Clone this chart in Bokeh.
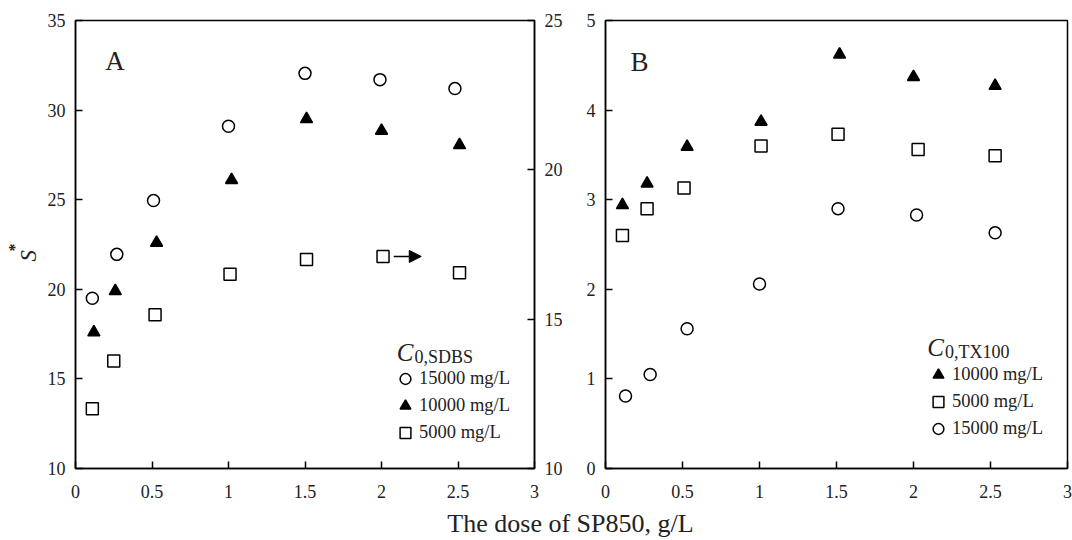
import math
from bokeh.plotting import figure
from bokeh.models import (Range1d, LinearAxis, FixedTicker, NumeralTickFormatter,
                          Legend, LegendItem, Label, Arrow, NormalHead, Title)
from bokeh.layouts import column, row
from bokeh.embed import file_html
from bokeh.resources import INLINE

FONT = "Liberation Serif"
TXT = "#222222"

# ---------------- data ----------------
# Panel A (C0,SDBS) - circles & triangles on left axis, squares on right axis
a_x_15000 = [0.11, 0.27, 0.51, 1.00, 1.50, 1.99, 2.48]
a_y_15000 = [19.5, 21.95, 24.95, 29.1, 32.05, 31.7, 31.2]
a_x_10000 = [0.12, 0.26, 0.53, 1.02, 1.51, 2.00, 2.51]
a_y_10000 = [17.6, 19.9, 22.6, 26.1, 29.5, 28.85, 28.05]
a_x_5000 = [0.11, 0.25, 0.52, 1.01, 1.51, 2.01, 2.51]
a_y_5000 = [12.0, 13.6, 15.15, 16.5, 17.0, 17.1, 16.55]

# Panel B (C0,TX100)
b_x_10000 = [0.11, 0.27, 0.53, 1.01, 1.52, 2.00, 2.53]
b_y_10000 = [2.94, 3.18, 3.59, 3.87, 4.62, 4.37, 4.27]
b_x_5000 = [0.11, 0.27, 0.51, 1.01, 1.51, 2.03, 2.53]
b_y_5000 = [2.60, 2.90, 3.13, 3.60, 3.73, 3.56, 3.49]
b_x_15000 = [0.13, 0.29, 0.53, 1.00, 1.51, 2.02, 2.53]
b_y_15000 = [0.81, 1.05, 1.56, 2.06, 2.90, 2.83, 2.63]

x_ticks = [0, 0.5, 1, 1.5, 2, 2.5, 3]
a_left_ticks = [10, 15, 20, 25, 30, 35]
a_right_ticks = [10, 15, 20, 25]
b_ticks = [0, 1, 2, 3, 4, 5]

legend_labels = ["15000 mg/L", "10000 mg/L", "5000 mg/L"]


def style_axis(ax, ticks, fmt=None, standoff=10):
    ax.ticker = FixedTicker(ticks=ticks)
    if fmt:
        ax.formatter = NumeralTickFormatter(format=fmt)
    ax.axis_line_color = "black"
    ax.axis_line_width = 1.5
    ax.major_tick_line_color = "black"
    ax.major_tick_line_width = 1.5
    ax.major_tick_in = 7
    ax.major_tick_out = 0
    ax.minor_tick_line_color = None
    ax.major_label_text_font = FONT
    ax.major_label_text_font_size = "18px"
    ax.major_label_text_color = TXT
    ax.major_label_standoff = standoff


def base_fig(width, xr, yr, ml, mr, mt, mb):
    p = figure(width=width, height=510, x_range=xr, y_range=yr,
               output_backend="svg", toolbar_location=None,
               min_border_left=ml, min_border_right=mr,
               min_border_top=mt, min_border_bottom=mb)
    p.xgrid.grid_line_color = None
    p.ygrid.grid_line_color = None
    p.outline_line_color = "black"
    p.outline_line_width = 1.5
    p.outline_line_alpha = 1
    p.background_fill_color = "white"
    p.border_fill_color = "white"
    return p


def make_legend(items, loc):
    return Legend(items=items, location=loc, padding=0, margin=0, spacing=0,
                  glyph_width=28, glyph_height=27, label_standoff=0,
                  label_text_font=FONT, label_text_font_size="18.5px",
                  label_text_color=TXT, border_line_color=None,
                  background_fill_alpha=0)


mk = dict(size=12, line_color="black", line_width=1.5)

# ---------------- Panel A ----------------
pA = base_fig(572, Range1d(0, 3), Range1d(10, 35), 72, 38, 20, 40)
pA.extra_y_ranges = {"right": Range1d(10, 25)}
pA.add_layout(LinearAxis(y_range_name="right"), "right")
style_axis(pA.xaxis[0], x_ticks, "0.[0]", 16)
style_axis(pA.yaxis[0], a_left_ticks)
style_axis(pA.yaxis[1], a_right_ticks)

# y-axis title S* : italic S and a raised asterisk as side titles
pA.add_layout(Title(text="S", text_font=FONT, text_font_size="23px",
                    text_font_style="italic", text_color=TXT,
                    align="left", offset=207, standoff=8), "left")
pA.add_layout(Title(text="*", text_font=FONT, text_font_size="16px",
                    text_color=TXT, align="left", offset=217, standoff=-27), "left")
pA.add_layout(Title(text=" ", text_font=FONT, text_font_size="1px",
                    text_color=TXT, standoff=6), "left")

rA1 = pA.scatter(a_x_15000, a_y_15000, marker="circle", fill_color="white", **mk)
rA2 = pA.scatter(a_x_10000, a_y_10000, marker="triangle", fill_color="black", **mk)
rA3 = pA.scatter(a_x_5000, a_y_5000, marker="square", fill_color="white",
                 y_range_name="right", **mk)

pA.add_layout(make_legend([LegendItem(label=legend_labels[0], renderers=[rA1]),
                           LegendItem(label=legend_labels[1], renderers=[rA2]),
                           LegendItem(label=legend_labels[2], renderers=[rA3])],
                          (316, 22)))

pA.add_layout(Arrow(end=NormalHead(size=12, fill_color="black", line_color="black"),
                    x_start=a_x_5000[5] + 0.07, y_start=a_y_5000[5],
                    x_end=a_x_5000[5] + 0.25, y_end=a_y_5000[5],
                    y_range_name="right", line_color="black", line_width=1.5))

pA.add_layout(Label(x=0.195, y=32.72, text="A", text_font=FONT, text_font_size="27px",
                    text_color=TXT, text_align="left", text_baseline="alphabetic"))
pA.add_layout(Label(x=2.10, y=16.5, text="C", text_font=FONT, text_font_size="25px",
                    text_font_style="italic", text_color=TXT,
                    text_align="left", text_baseline="alphabetic"))
pA.add_layout(Label(x=2.215, y=16.25, text="0,SDBS", text_font=FONT, text_font_size="18px",
                    text_color=TXT, text_align="left", text_baseline="alphabetic"))

# ---------------- Panel B ----------------
pB = base_fig(500, Range1d(0, 3), Range1d(0, 5), 33, 5, 18, 42)
style_axis(pB.xaxis[0], x_ticks, "0.[0]", 16)
style_axis(pB.yaxis[0], b_ticks)

rB1 = pB.scatter(b_x_10000, b_y_10000, marker="triangle", fill_color="black", **mk)
rB2 = pB.scatter(b_x_5000, b_y_5000, marker="square", fill_color="white", **mk)
rB3 = pB.scatter(b_x_15000, b_y_15000, marker="circle", fill_color="white", **mk)

pB.add_layout(make_legend([LegendItem(label=legend_labels[1], renderers=[rB1]),
                           LegendItem(label=legend_labels[2], renderers=[rB2]),
                           LegendItem(label=legend_labels[0], renderers=[rB3])],
                          (319, 26)))

pB.add_layout(Label(x=0.163, y=4.54, text="B", text_font=FONT, text_font_size="27px",
                    text_color=TXT, text_align="left", text_baseline="alphabetic"))
pB.add_layout(Label(x=2.09, y=1.356, text="C", text_font=FONT, text_font_size="25px",
                    text_font_style="italic", text_color=TXT,
                    text_align="left", text_baseline="alphabetic"))
pB.add_layout(Label(x=2.205, y=1.30, text="0,TX100", text_font=FONT, text_font_size="18px",
                    text_color=TXT, text_align="left", text_baseline="alphabetic"))

# ---------------- shared x-axis title ----------------
pT = figure(width=1072, height=30, x_range=Range1d(0, 1072), y_range=Range1d(0, 30),
            x_axis_type=None, y_axis_type=None, output_backend="svg",
            toolbar_location=None, min_border=0, outline_line_color=None)
pT.add_layout(Label(x=570, y=17, text="The dose of SP850, g/L", text_font=FONT,
                    text_font_size="26px", text_color=TXT,
                    text_align="center", text_baseline="alphabetic"))

layout = column(row(pA, pB), pT)
open("out.html", "w").write(file_html(layout, INLINE))
